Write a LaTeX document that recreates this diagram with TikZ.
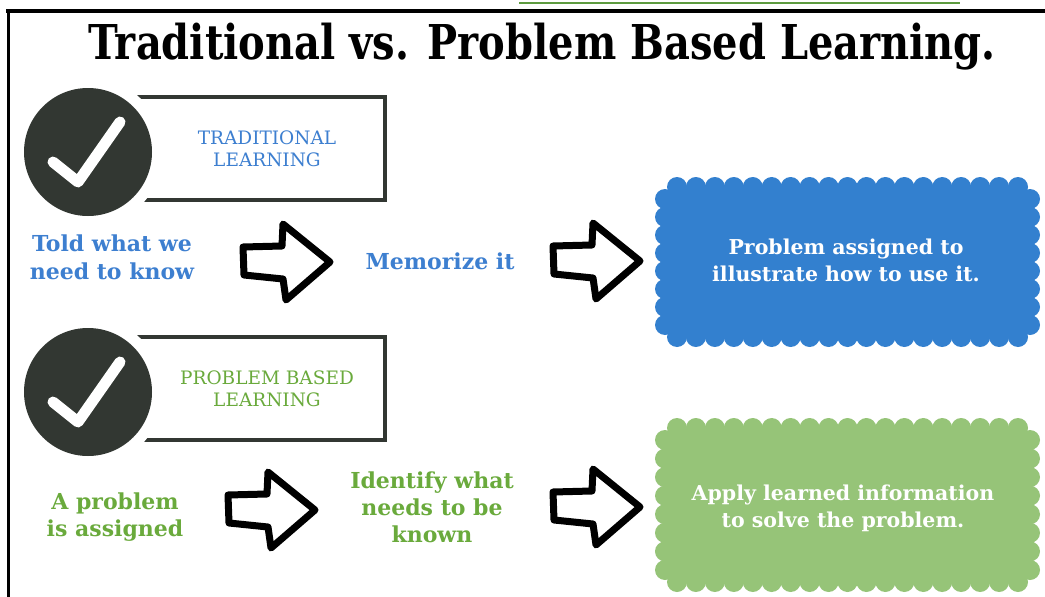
\documentclass[tikz,border=0pt]{standalone}
\usepackage{fontspec}
\usepackage{graphicx}
\setmainfont{DejaVu Serif}
\definecolor{tblue}{HTML}{3D7FD0}
\definecolor{cblue}{HTML}{3380CF}
\definecolor{tgreen}{HTML}{6AAA3C}
\definecolor{cgreen}{HTML}{96C478}
\definecolor{darkc}{HTML}{323732}
\definecolor{linkgreen}{HTML}{5D9B3F}
\tikzset{
  arrowline/.style={draw=black, line width=7pt, line join=round, fill=white},
  headbox/.style={draw=darkc, line width=4pt},
  checkline/.style={draw=white, line width=11pt, line cap=round, line join=round},
  bluetext/.style={text=tblue, align=center, font=\bfseries\fontsize{22}{28}\selectfont},
  greentext/.style={text=tgreen, align=center, font=\bfseries\fontsize{22}{27}\selectfont},
  headblue/.style={text=tblue, align=center, font=\fontsize{18.5}{22}\selectfont},
  headgreen/.style={text=tgreen, align=center, font=\fontsize{18.5}{22}\selectfont},
  cloudtext/.style={text=white, align=center, font=\bfseries\fontsize{20.5}{27}\selectfont},
}
\newcommand\scallopbox[5]{%
  \fill[#5, rounded corners=16pt] (#1,#2) rectangle (#3,#4);
  \pgfmathsetmacro\scw{#3-#1-24}%
  \pgfmathtruncatemacro\scn{round(\scw/19)}%
  \foreach \i in {0,...,\scn} {
    \fill[#5] ({#1+12+\i*\scw/\scn},#2) circle (10pt);
    \fill[#5] ({#1+12+\i*\scw/\scn},#4) circle (10pt);
  }
  \pgfmathsetmacro\sch{#4-#2-24}%
  \pgfmathtruncatemacro\scm{round(\sch/19)}%
  \foreach \j in {0,...,\scm} {
    \fill[#5] (#1,{#2+12+\j*\sch/\scm}) circle (10pt);
    \fill[#5] (#3,{#2+12+\j*\sch/\scm}) circle (10pt);
  }
}
\newcommand\outlinearrow[1]{%
  \draw[arrowline, shift={#1}] (0,-15) -- (39,-16) -- (40,-38) -- (87,0) -- (43,38) -- (40,17) -- (1,13) -- cycle;
}
\begin{document}
\begin{tikzpicture}[x=1pt,y=-1pt]
\useasboundingbox (0,0) rectangle (1045,597);
\fill[white] (0,0) rectangle (1045,597);
% top cut-off link underline and frame
\draw[linkgreen, line width=1.5pt] (519,3) -- (960,3);
\draw[black, line width=4pt] (6,11) -- (1045,11);
\draw[black, line width=3pt] (8,11) -- (8,597);
% title
\node (title) at (542,47) {\scalebox{1}[1.2]{\bfseries\fontsize{40}{44}\selectfont Traditional vs. Problem Based Learning.}};

% ---- traditional header
\draw[headbox] (120,97) rectangle (385,200);
\fill[white] (88,152) circle (75pt);
\fill[darkc] (88,152) circle (64pt);
\draw[checkline] (53,162) -- (78,182) -- (120,122);
\node[headblue] (trad) at (267,149) {TRADITIONAL\\LEARNING};

% ---- traditional row
\node[bluetext] (told) at (112,257) {Told what we\\need to know};
\outlinearrow{(243,262)}
\node[bluetext] (mem) at (440,261) {Memorize it};
\outlinearrow{(553,261)}
\scallopbox{665}{187}{1030}{337}{cblue}
\node[cloudtext] (assign) at (846,260) {Problem assigned to\\illustrate how to use it.};

% ---- PBL header
\draw[headbox] (120,337) rectangle (385,440);
\fill[white] (88,392) circle (75pt);
\fill[darkc] (88,392) circle (64pt);
\draw[checkline] (53,402) -- (78,422) -- (120,362);
\node[headgreen] (pbl) at (267,389) {PROBLEM BASED\\LEARNING};

% ---- PBL row
\node[greentext] (aprob) at (115,517) {A problem\\is assigned};
\outlinearrow{(228,510)}
\node[greentext] (ident) at (432,507) {Identify what\\needs to be\\known};
\outlinearrow{(553,507)}
\scallopbox{665}{428}{1030}{582}{cgreen}
\node[cloudtext] (apply) at (843,508) {Apply learned information\\to solve the problem.};
\end{tikzpicture}
\end{document}
